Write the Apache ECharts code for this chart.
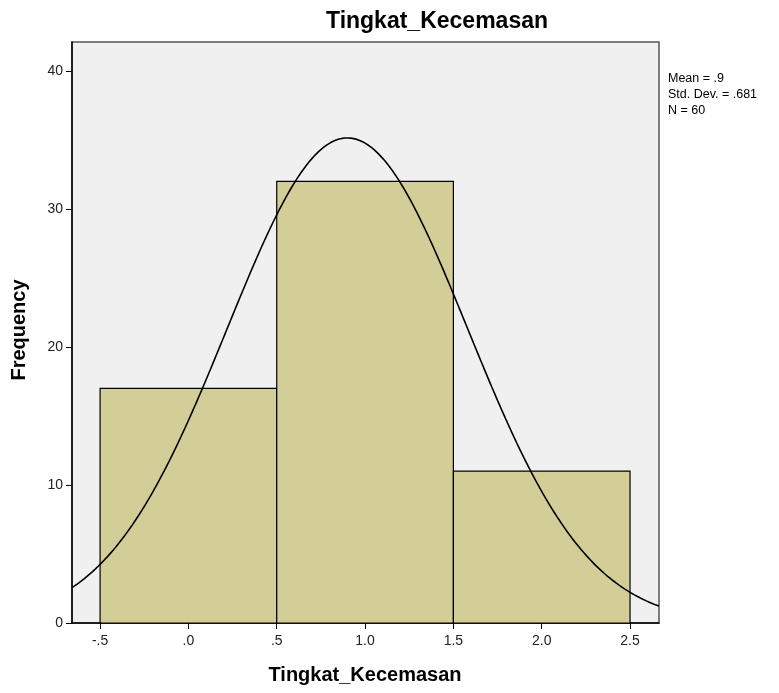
<!DOCTYPE html>
<html>
<head>
<meta charset="utf-8">
<script src="https://cdn.jsdelivr.net/npm/echarts@6/dist/echarts.min.js"></script>
<style>html,body{margin:0;padding:0;background:#fff}#c{width:779px;height:693px}</style>
</head>
<body>
<div id="c"></div>
<script>
// Histogram bins and frequencies
const binStarts = [-0.5, 0.5, 1.5];
const binEnds = [0.5, 1.5, 2.5];
const frequencies = [17, 32, 11];
// Summary statistics shown in the chart
const meanValue = 0.9;
const stdDev = 0.681;
const nCount = 60;
const binWidth = 1.0;
// Axis ticks
const xTicks = [-0.5, 0, 0.5, 1.0, 1.5, 2.0, 2.5];
const xTickLabels = ['-.5', '.0', '.5', '1.0', '1.5', '2.0', '2.5'];
const yTicks = [0, 10, 20, 30, 40];
const xMin = -0.659, xMax = 2.664, yMax = 42.1;

// Normal curve fitted with the displayed mean / sd / N
const curve = [];
for (let i = 0; i <= 400; i++) {
  const x = xMin + (xMax - xMin) * i / 400;
  const z = (x - meanValue) / stdDev;
  curve.push([x, nCount * binWidth / (stdDev * Math.sqrt(2 * Math.PI)) * Math.exp(-0.5 * z * z)]);
}
const barData = binStarts.map((s, i) => [s, binEnds[i], frequencies[i]]);

const chart = echarts.init(document.getElementById('c'));
const FONT = '"Liberation Sans", Arial, sans-serif';
chart.setOption({
  animation: false,
  grid: {left: 72, right: 120, top: 42, bottom: 70, show: true, backgroundColor: '#f0f0f0', borderColor: '#555', borderWidth: 1.5},
  xAxis: {
    type: 'value', min: xMin, max: xMax,
    axisLine: {onZero: false, lineStyle: {color: '#000', width: 1.5}},
    axisTick: {show: true, length: 6, customValues: xTicks, lineStyle: {color: '#000', width: 1}},
    axisLabel: {customValues: xTicks, formatter: v => { const i = xTicks.findIndex(t => Math.abs(t - v) < 1e-6); return i >= 0 ? xTickLabels[i] : ''; }, color: '#222', fontSize: 14, fontFamily: FONT, margin: 11},
    splitLine: {show: false}
  },
  yAxis: {
    type: 'value', min: 0, max: yMax,
    axisLine: {show: true, onZero: false, lineStyle: {color: '#000', width: 1.5}},
    axisTick: {show: true, length: 6, customValues: yTicks, lineStyle: {color: '#000', width: 1}},
    axisLabel: {customValues: yTicks, color: '#222', fontSize: 14, fontFamily: FONT, margin: 9},
    splitLine: {show: false}
  },
  series: [
    {
      type: 'custom',
      data: barData,
      renderItem: function (params, api) {
        const p0 = api.coord([api.value(0), 0]);
        const p1 = api.coord([api.value(1), api.value(2)]);
        return {
          type: 'rect',
          shape: {x: p0[0], y: p1[1], width: p1[0] - p0[0], height: p0[1] - p1[1]},
          style: {fill: '#d3ce98', stroke: '#000', lineWidth: 1.2}
        };
      },
      encode: {x: [0, 1], y: 2},
      z: 2
    },
    {
      type: 'line', data: curve, showSymbol: false, smooth: false, clip: true,
      lineStyle: {color: '#000', width: 1.6}, z: 3
    }
  ],
  graphic: [
    {type: 'text', x: 437, y: 10, style: {text: 'Tingkat_Kecemasan', font: 'bold 23px ' + FONT, fill: '#000', align: 'center'}},
    {type: 'text', x: 365, y: 665, style: {text: 'Tingkat_Kecemasan', font: 'bold 20px ' + FONT, fill: '#000', align: 'center'}},
    {type: 'text', x: 9, y: 330, rotation: Math.PI / 2, style: {text: 'Frequency', font: 'bold 20px ' + FONT, fill: '#000', align: 'center', verticalAlign: 'top'}},
    {type: 'text', x: 668, y: 71, style: {text: 'Mean = .9\nStd. Dev. = .681\nN = 60', font: '12.5px ' + FONT, fill: '#000', lineHeight: 16}}
  ]
});
</script>
</body>
</html>
